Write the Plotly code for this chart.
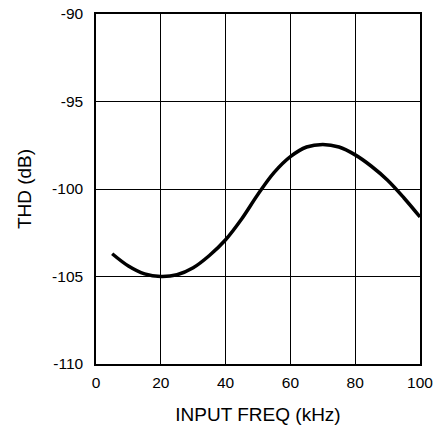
import plotly.graph_objects as go

# THD vs input frequency
freq_khz = [5, 10, 15, 20, 25, 30, 35, 40, 45, 50, 55, 60, 65, 70, 75, 80, 85, 90, 95, 100]
thd_db = [-103.7, -104.4, -104.85, -105.0, -104.9, -104.5, -103.8, -102.9, -101.7, -100.3,
          -99.05, -98.15, -97.6, -97.45, -97.6, -98.05, -98.7, -99.5, -100.5, -101.6]

x_ticks = [0, 20, 40, 60, 80, 100]
y_ticks = [-110, -105, -100, -95, -90]
y_labels = ["-110", "-105", "-100", "-95", "-90"]  # plain hyphen, not unicode minus

font = dict(family="Liberation Sans, Arial, sans-serif", size=15.5, color="black")

fig = go.Figure()
fig.add_trace(go.Scatter(x=freq_khz, y=thd_db, mode="lines",
                         line=dict(color="black", width=3.5, shape="spline"),
                         showlegend=False))

fig.update_layout(
    width=443, height=430,
    margin=dict(l=96, r=23, t=14, b=66),
    paper_bgcolor="white", plot_bgcolor="white",
    font=font,
)
fig.update_xaxes(range=[0, 100], tickvals=x_ticks, showgrid=True, gridcolor="black", gridwidth=1,
                 showline=True, linecolor="black", linewidth=1.5, mirror=True, ticks="",
                 zeroline=False, automargin=False, ticklabelstandoff=4,
                 title=dict(text="INPUT FREQ (kHz)", standoff=17))
fig.update_yaxes(range=[-110, -90], tickvals=y_ticks, ticktext=y_labels, showgrid=True,
                 gridcolor="black", gridwidth=1,
                 showline=True, linecolor="black", linewidth=1.5, mirror=True, ticks="",
                 zeroline=False, automargin=False, ticklabelstandoff=8,
                 ticklabeloverflow="allow",
                 title=dict(text="THD (dB)", standoff=15))

# drop the browser's default 8px body margin so the figure sits flush in the window
fig.write_html("out.html", config={"displayModeBar": False},
               post_script="document.body.style.margin = '0';")
